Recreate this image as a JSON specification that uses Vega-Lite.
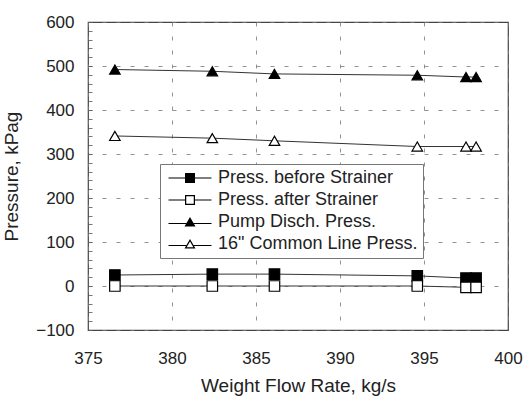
{
  "$schema": "https://vega.github.io/schema/vega-lite/v6.json",
  "width": 420,
  "height": 308,
  "autosize": {"type": "none"},
  "padding": {"left": 88, "top": 22, "right": 21, "bottom": 69},
  "background": "white",
  "config": {
    "font": "Liberation Sans",
    "view": {"stroke": "#444", "strokeWidth": 1.2},
    "axis": {
      "labelFont": "Liberation Sans", "titleFont": "Liberation Sans",
      "labelFontSize": 17, "titleFontSize": 19, "labelColor": "#222", "titleColor": "#222",
      "titleFontWeight": "normal", "domain": false,
      "grid": true, "gridColor": "#777", "gridDash": [4, 10], "gridWidth": 0.8
    }
  },
  "data": {"values": [
    {"series": "Press. before Strainer", "x": 376.6, "y": 25},
    {"series": "Press. before Strainer", "x": 382.4, "y": 27},
    {"series": "Press. before Strainer", "x": 386.1, "y": 27},
    {"series": "Press. before Strainer", "x": 394.6, "y": 23},
    {"series": "Press. before Strainer", "x": 397.5, "y": 18},
    {"series": "Press. before Strainer", "x": 398.1, "y": 18},
    {"series": "Press. after Strainer", "x": 376.6, "y": 0},
    {"series": "Press. after Strainer", "x": 382.4, "y": 0},
    {"series": "Press. after Strainer", "x": 386.1, "y": 0},
    {"series": "Press. after Strainer", "x": 394.6, "y": 0},
    {"series": "Press. after Strainer", "x": 397.5, "y": -3},
    {"series": "Press. after Strainer", "x": 398.1, "y": -3},
    {"series": "Pump Disch. Press.", "x": 376.6, "y": 492},
    {"series": "Pump Disch. Press.", "x": 382.4, "y": 488},
    {"series": "Pump Disch. Press.", "x": 386.1, "y": 482},
    {"series": "Pump Disch. Press.", "x": 394.6, "y": 479},
    {"series": "Pump Disch. Press.", "x": 397.5, "y": 475},
    {"series": "Pump Disch. Press.", "x": 398.1, "y": 475},
    {"series": "16\" Common Line Press.", "x": 376.6, "y": 341},
    {"series": "16\" Common Line Press.", "x": 382.4, "y": 336},
    {"series": "16\" Common Line Press.", "x": 386.1, "y": 330},
    {"series": "16\" Common Line Press.", "x": 394.6, "y": 317},
    {"series": "16\" Common Line Press.", "x": 397.5, "y": 317},
    {"series": "16\" Common Line Press.", "x": 398.1, "y": 317}
  ]},
  "encoding": {
    "x": {"field": "x", "type": "quantitative", "title": "Weight Flow Rate, kg/s",
      "scale": {"domain": [375, 400], "nice": false, "zero": false},
      "axis": {"values": [375, 380, 385, 390, 395, 400], "ticks": false, "labelPadding": 20, "titlePadding": 10, "labelFlush": false}},
    "y": {"field": "y", "type": "quantitative", "title": "Pressure, kPag",
      "scale": {"domain": [-100, 600], "nice": false, "zero": false},
      "axis": {
        "values": [-100, -80, -60, -40, -20, 0, 20, 40, 60, 80, 100, 120, 140, 160, 180, 200, 220, 240, 260, 280, 300, 320, 340, 360, 380, 400, 420, 440, 460, 480, 500, 520, 540, 560, 580, 600],
        "labelExpr": "datum.value % 100 === 0 ? (datum.value < 0 ? '\u2212100' : datum.label) : ''",
        "gridOpacity": {"condition": {"test": "datum.value % 100 === 0", "value": 1}, "value": 0},
        "ticks": true, "tickSize": -4, "tickColor": "#555", "tickWidth": 0.8,
        "labelPadding": 18, "titlePadding": 14}}
  },
  "layer": [
    {
      "mark": {"type": "line", "color": "#333", "strokeWidth": 1},
      "encoding": {"detail": {"field": "series"}}
    },
    {
      "mark": {"type": "point", "filled": false, "stroke": "black", "strokeWidth": 1.2, "opacity": 1, "size": 110},
      "encoding": {
        "shape": {"field": "series", "type": "nominal",
          "scale": {
            "domain": ["Press. before Strainer", "Press. after Strainer", "Pump Disch. Press.", "16\" Common Line Press."],
            "range": ["square", "square", "triangle-up", "triangle-up"]},
          "legend": null},
        "fill": {"field": "series", "type": "nominal",
          "scale": {
            "domain": ["Press. before Strainer", "Press. after Strainer", "Pump Disch. Press.", "16\" Common Line Press."],
            "range": ["black", "white", "black", "white"]},
          "legend": null}
      }
    },
    {
      "mark": {"type": "point", "filled": true, "color": "black", "opacity": 0, "size": 100},
      "encoding": {
        "shape": {"field": "series", "type": "nominal",
          "scale": {
            "domain": ["Press. before Strainer", "Press. after Strainer", "Pump Disch. Press.", "16\" Common Line Press."],
            "range": [
              "M-4.3,-0.1H-1V0.1H-4.3Z M1,-0.1H4.3V0.1H1Z M-1,-1H1V1H-1Z",
              "M-4.3,-0.1H-1V0.1H-4.3Z M1,-0.1H4.3V0.1H1Z M-1,-1H1V1H-1Z M-0.75,-0.75V0.75H0.75V-0.75Z",
              "M-4.3,0.2H-0.75V0.4H-4.3Z M0.75,0.2H4.3V0.4H0.75Z M0,-1L1.1,0.9H-1.1Z",
              "M-4.3,0.2H-0.75V0.4H-4.3Z M0.75,0.2H4.3V0.4H0.75Z M0,-1L1.1,0.9H-1.1Z M0,-0.5L-0.666,0.65H0.666Z"
            ]},
          "legend": {
            "title": null, "orient": "none", "legendX": 72, "legendY": 142,
            "symbolSize": 100, "symbolOffset": 16, "labelOffset": 19,
            "labelFontSize": 18, "labelColor": "#222", "labelFont": "Liberation Sans",
            "rowPadding": 4, "padding": 5, "strokeColor": "#777", "fillColor": "white",
            "labelLimit": 400,
            "encode": {"symbols": {"update": {"opacity": {"value": 1}}}}
          }}
      }
    }
  ],
  "resolve": {"scale": {"shape": "independent"}}
}
